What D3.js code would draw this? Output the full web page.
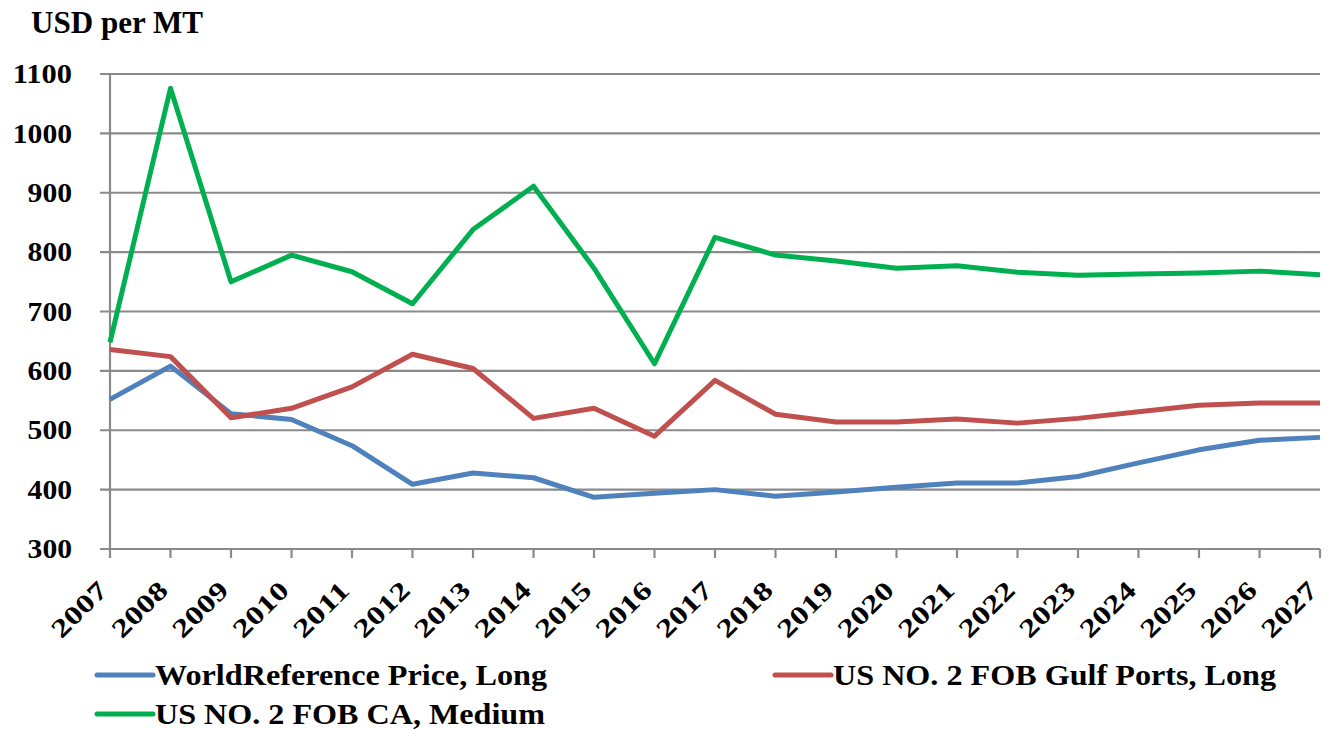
<!DOCTYPE html>
<html><head><meta charset="utf-8">
<script src="https://cdn.jsdelivr.net/npm/d3@7"></script>
<style>body{margin:0;background:#fff;} svg{display:block;} text{font-family:"Liberation Serif","Times New Roman",serif;font-weight:bold;fill:#000;}</style>
</head><body>
<svg id="c" width="1331" height="729"></svg>
<script>
const years = [2007,2008,2009,2010,2011,2012,2013,2014,2015,2016,2017,2018,2019,2020,2021,2022,2023,2024,2025,2026,2027];
const worldRef = [552,608,528,518,474,409,428,420,387,394,400,389,396,404,411,411,422,445,467,483,488];
const gulfPorts = [636,624,521,537,573,628,604,520,537,490,584,527,514,514,519,512,520,531,542,546,546];
const caMedium = [648,1076,750,795,767,713,838,911,773,612,825,795,785,773,777,766,761,763,765,768,762];
const yTicks = [300,400,500,600,700,800,900,1000,1100];
const seriesNames = ["WorldReference Price, Long","US NO. 2 FOB Gulf Ports, Long","US NO. 2 FOB CA, Medium"];
const colors = ["#4F81BD","#C0504D","#00B050"];

const svg = d3.select("#c");
const x = d3.scalePoint().domain(years).range([110,1320]);
const y = d3.scaleLinear().domain([300,1100]).range([549,74]);

// gridlines
svg.append("g").selectAll("line").data(yTicks).join("line")
  .attr("x1",100).attr("x2",1320).attr("y1",d=>y(d)).attr("y2",d=>y(d))
  .attr("stroke","#8a8a8a").attr("stroke-width",2.2);
// y axis line
svg.append("line").attr("x1",110).attr("x2",110).attr("y1",y(1100)).attr("y2",y(300))
  .attr("stroke","#8a8a8a").attr("stroke-width",2.2);
// x ticks
svg.append("g").selectAll("line").data(years).join("line")
  .attr("x1",d=>x(d)).attr("x2",d=>x(d)).attr("y1",y(300)).attr("y2",y(300)+9)
  .attr("stroke","#8a8a8a").attr("stroke-width",2.2);

// y labels
svg.append("g").selectAll("text").data(yTicks).join("text")
  .attr("x",72).attr("y",d=>y(d)).attr("dy","0.33em").attr("text-anchor","end")
  .attr("font-size",28).attr("textLength",d=>String(d).length*14.8).attr("lengthAdjust","spacingAndGlyphs")
  .text(d=>d);

// x labels
svg.append("g").selectAll("text").data(years).join("text")
  .attr("text-anchor","end").attr("font-size",26)
  .attr("textLength",67).attr("lengthAdjust","spacingAndGlyphs")
  .attr("transform",d=>`translate(${x(d)-1},${592}) rotate(-45)`).text(d=>d);

// title
svg.append("text").attr("x",31).attr("y",33).attr("font-size",32)
  .attr("textLength",172).attr("lengthAdjust","spacingAndGlyphs").text("USD per MT");

// lines
const line = d3.line().x((d,i)=>x(years[i])).y(d=>y(d));
[worldRef,gulfPorts,caMedium].forEach((s,k)=>{
  svg.append("path").datum(s).attr("d",line).attr("fill","none")
    .attr("stroke",colors[k]).attr("stroke-width",5).attr("stroke-linejoin","round");
});

// legend
const leg = [{x:97,y:675,w:392},{x:775,y:675,w:443},{x:97,y:714,w:390}];
leg.forEach((p,k)=>{
  svg.append("line").attr("x1",p.x).attr("x2",p.x+56).attr("y1",p.y).attr("y2",p.y)
    .attr("stroke",colors[k]).attr("stroke-width",5).attr("stroke-linecap","round");
  svg.append("text").attr("x",p.x+58).attr("y",p.y+10).attr("font-size",30)
    .attr("textLength",p.w).attr("lengthAdjust","spacingAndGlyphs").text(seriesNames[k]);
});
</script>
</body></html>
